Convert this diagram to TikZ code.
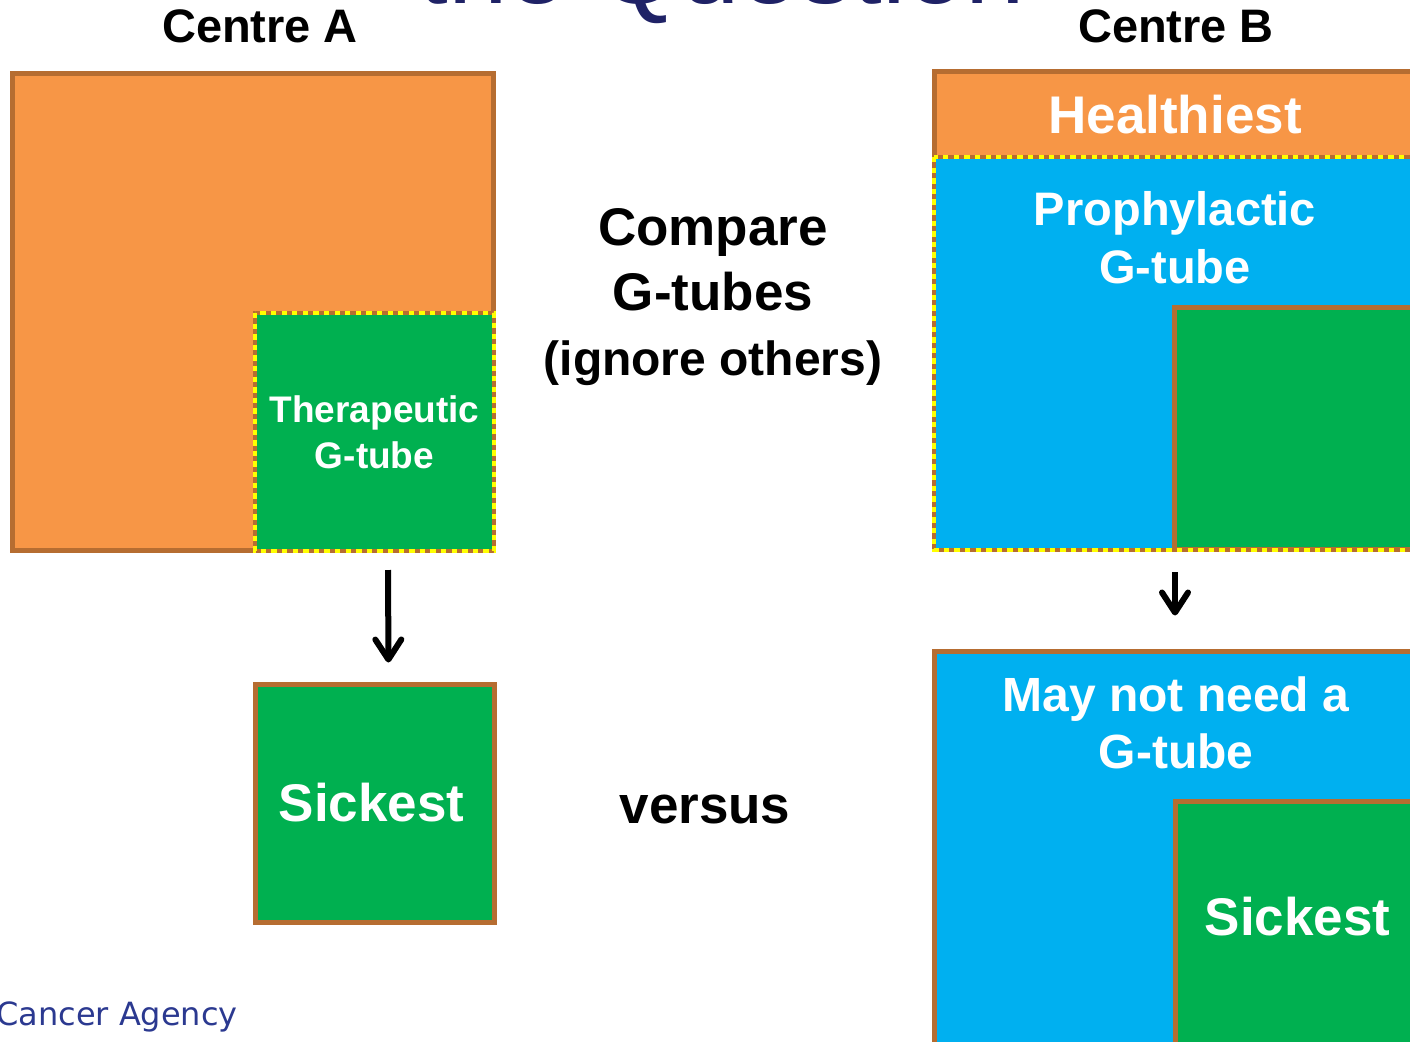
\documentclass[tikz,border=0pt]{standalone}
\usepackage{fontspec}
\setmainfont{Liberation Sans}
\newfontfamily\agencyfont{DejaVu Sans}
\usetikzlibrary{arrows.meta}

\definecolor{boxorange}{HTML}{F79646}
\definecolor{boxgreen}{HTML}{00B050}
\definecolor{boxblue}{HTML}{00B0F0}
\definecolor{boxedge}{HTML}{B66D31}
\definecolor{dotyellow}{HTML}{FFFF00}
\definecolor{titlenavy}{HTML}{1F2266}
\definecolor{agencyblue}{HTML}{2B3990}

\begin{document}
\begin{tikzpicture}
  [x=1pt, y=-1pt,
   panel/.style={draw=boxedge, line width=5, inner sep=0, outer sep=0, anchor=north west},
   dotedge/.style={draw=boxedge, line width=4,
     postaction={draw=dotyellow, line width=4, dash pattern=on 5.3pt off 5.3pt}},
   boxtext/.style={text=white, align=center},
   centre/.style={anchor=base, font=\fontsize{47}{56}\selectfont\bfseries},
   middle/.style={align=center, font=\fontsize{53}{65}\selectfont\bfseries},
   flow/.style={line width=6, -{Straight Barb[length=20, width=26, round]}}]
  \useasboundingbox (0,0) rectangle (1410,1041);
  \clip (0,0) rectangle (1410,1041);

  \node[anchor=base, text=titlenavy, font=\fontsize{107}{120}\selectfont] (question) at (722,4) {the Question};
  \node[centre] (centreA) at (260,43) {Centre A};
  \node[centre] (centreB) at (1176,43) {Centre B};

  % Centre A
  \node[panel, fill=boxorange, minimum width=481, minimum height=477] (allA) at (12.5,73.5) {};
  \node[panel, draw=none, fill=boxgreen, minimum width=239, minimum height=238,
        boxtext, font=\fontsize{37}{46}\selectfont\bfseries] (gtubeA) at (255,313) {Therapeutic\\G-tube};
  \draw[dotedge] (gtubeA.north west) rectangle (gtubeA.south east);
  \node[panel, fill=boxgreen, minimum width=239, minimum height=238] (sickA) at (255.5,684.5) {};
  \node[boxtext, font=\fontsize{53}{63}\selectfont\bfseries] (sicklabelA) at (371.5,803) {Sickest};
  \draw[flow, shorten <=19, shorten >=22] ([xshift=13.5]gtubeA.south) -- ([xshift=13.5]sickA.north);

  \node[middle] (compare) at (713,297) {Compare\\G-tubes\\\fontsize{48}{58}\selectfont(ignore others)};
  \node[middle, anchor=base] (versus) at (705,823) {versus};

  % Centre B
  \node[panel, fill=boxorange, minimum width=600, minimum height=478] (allB) at (934.5,71.5) {};
  \node[boxtext, anchor=base, font=\fontsize{53}{63}\selectfont\bfseries] (healthy) at (1175,133) {Healthiest};
  \node[panel, draw=none, fill=boxblue, minimum width=600, minimum height=393] (prophB) at (934,157) {};
  \node[panel, fill=boxgreen, minimum width=300, minimum height=242] (gtubeB) at (1174.5,307.5) {};
  \draw[dotedge] (prophB.north west) rectangle (prophB.south east);
  \node[boxtext, font=\fontsize{47}{58}\selectfont\bfseries] (prophlabel) at (1175,238) {Prophylactic\\G-tube};

  \node[panel, fill=boxblue, minimum width=600, minimum height=450] (needB) at (934.5,651.5) {};
  \node[boxtext, font=\fontsize{48}{57}\selectfont\bfseries] (needlabel) at (1176,723) {May not need a\\G-tube};
  \node[panel, fill=boxgreen, minimum width=300, minimum height=300] (sickB) at (1175.5,801.5) {};
  \node[boxtext, font=\fontsize{53}{63}\selectfont\bfseries] (sicklabelB) at (1297.5,917) {Sickest};
  \draw[flow, shorten <=22, shorten >=36] (prophB.south -| healthy) -- (needB.north -| healthy);

  \node[anchor=base east, inner sep=0, text=agencyblue, font=\agencyfont\fontsize{32}{38}\selectfont] (agency) at (238,1025) {Cancer Agency};
\end{tikzpicture}
\end{document}
